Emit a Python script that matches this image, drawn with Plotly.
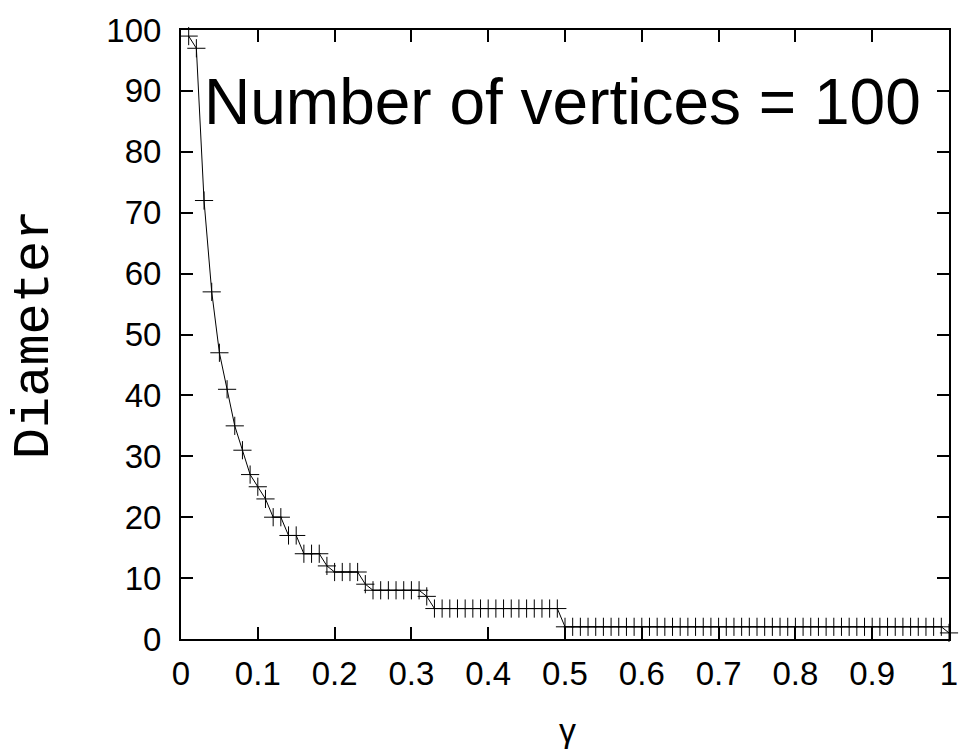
import plotly.graph_objects as go

gamma = [round(0.01 * k, 2) for k in range(1, 101)]
diameter = ([99, 97, 72, 57, 47, 41, 35, 31, 27, 25, 23, 20, 20, 17, 17,
             14, 14, 14, 12, 11, 11, 11, 11, 9]
            + [8] * 7 + [7] + [5] * 17 + [2] * 50 + [1])

x_ticks = [0, 0.1, 0.2, 0.3, 0.4, 0.5, 0.6, 0.7, 0.8, 0.9, 1]
x_labels = ["0", "0.1", "0.2", "0.3", "0.4", "0.5", "0.6", "0.7", "0.8", "0.9", "1"]
y_ticks = list(range(0, 101, 10))

fig = go.Figure()
fig.add_trace(go.Scatter(
    x=gamma, y=diameter, mode="lines+markers",
    line=dict(color="black", width=1),
    marker=dict(symbol="cross-thin", size=13, line=dict(color="black", width=1)),
    showlegend=False, cliponaxis=False,
))

axis_common = dict(
    showline=True, linecolor="black", linewidth=2, mirror="ticks",
    ticks="inside", ticklen=12, tickwidth=2, tickcolor="black",
    showgrid=False, zeroline=False,
    tickfont=dict(family="Liberation Sans, Arial, sans-serif", size=33, color="black"),
)

fig.update_layout(
    width=970, height=754,
    margin=dict(l=181, r=12, t=25, b=115),
    paper_bgcolor="white", plot_bgcolor="white",
    xaxis=dict(range=[0, 1], tickvals=x_ticks, ticktext=x_labels,
               ticklabelstandoff=4, **axis_common),
    yaxis=dict(range=[0, 100], tickvals=y_ticks,
               ticklabelstandoff=11, **axis_common),
    annotations=[
        dict(text="Number of vertices = 100", xref="paper", yref="paper",
             x=(567 - 181) / 777, y=0.881, xanchor="center", yanchor="middle", showarrow=False,
             font=dict(family="Liberation Sans, Arial, sans-serif", size=64, color="black")),
        dict(text="Diameter", xref="paper", yref="paper",
             x=(33 - 181) / 777, y=(639 - 332) / 614, xanchor="center", yanchor="middle",
             textangle=-90, showarrow=False,
             font=dict(family="Courier New, Liberation Mono, monospace", size=52, color="black")),
        dict(text="γ", xref="paper", yref="paper",
             x=(572 - 181) / 777, y=(639 - 731) / 614, xanchor="center", yanchor="middle",
             showarrow=False,
             font=dict(family="Liberation Sans, Arial, sans-serif", size=34, color="black")),
    ],
)

fig.write_html("out.html")
